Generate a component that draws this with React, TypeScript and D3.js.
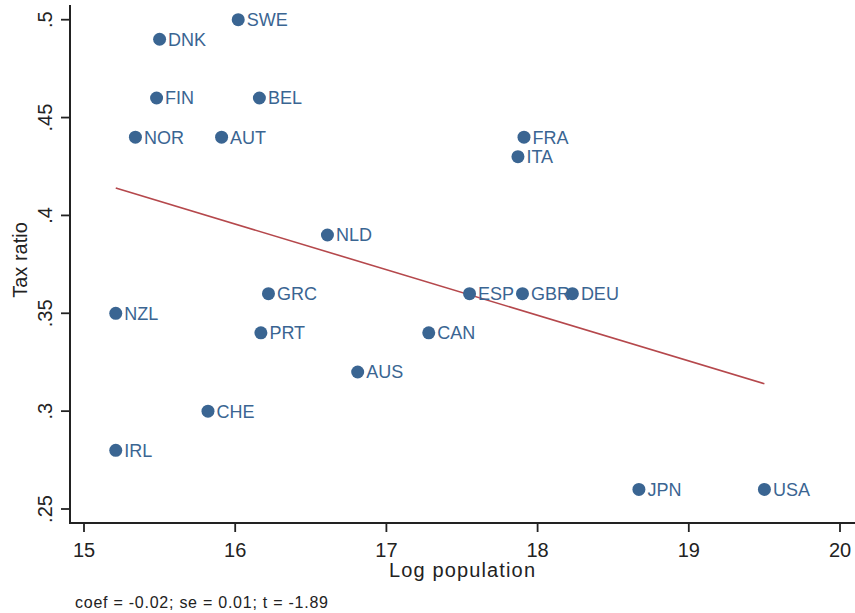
import React, { useEffect, useRef } from 'react';
import * as d3 from 'd3';

// countries, log population and tax ratio
const countries = ['SWE', 'DNK', 'FIN', 'BEL', 'NOR', 'AUT', 'FRA', 'ITA', 'NLD', 'GRC', 'ESP', 'GBR', 'DEU', 'NZL', 'PRT', 'CAN', 'AUS', 'CHE', 'IRL', 'JPN', 'USA'];
const logPop = [16.02, 15.5, 15.48, 16.16, 15.34, 15.91, 17.91, 17.87, 16.61, 16.22, 17.55, 17.9, 18.23, 15.21, 16.17, 17.28, 16.81, 15.82, 15.21, 18.67, 19.5];
const taxRatio = [0.5, 0.49, 0.46, 0.46, 0.44, 0.44, 0.44, 0.43, 0.39, 0.36, 0.36, 0.36, 0.36, 0.35, 0.34, 0.34, 0.32, 0.3, 0.28, 0.26, 0.26];

// fitted line endpoints
const fitX = [15.21, 19.5];
const fitY = [0.414, 0.314];

const xTicks = [15, 16, 17, 18, 19, 20];
const yTicks = [0.25, 0.3, 0.35, 0.4, 0.45, 0.5];
const yTickLabels = ['.25', '.3', '.35', '.4', '.45', '.5'];
const footnote = 'coef = -0.02; se = 0.01; t = -1.89';

const App = () => {
  const ref = useRef<SVGSVGElement>(null);

  useEffect(() => {
    const width = 855;
    const height = 613;
    const axisX = 70;
    const axisY = 523;
    const font = '"Liberation Sans", Arial, sans-serif';
    const ink = '#222';
    const navy = '#3a6592';

    const svg = d3.select(ref.current);
    svg.selectAll('*').remove();

    const x = d3.scaleLinear().domain([15, 20]).range([84, 840]);
    const y = d3.scaleLinear().domain([0.25, 0.5]).range([509, 19.7]);

    svg.append('rect').attr('width', width).attr('height', height).attr('fill', 'white');

    // axes
    svg.append('line')
      .attr('x1', axisX).attr('x2', axisX)
      .attr('y1', 5).attr('y2', axisY)
      .attr('stroke', ink).attr('stroke-width', 2);
    svg.append('line')
      .attr('x1', axisX - 1).attr('x2', width)
      .attr('y1', axisY).attr('y2', axisY)
      .attr('stroke', ink).attr('stroke-width', 2);

    // x ticks
    const xt = svg.append('g');
    xTicks.forEach(t => {
      xt.append('line')
        .attr('x1', x(t)).attr('x2', x(t))
        .attr('y1', axisY).attr('y2', axisY + 9)
        .attr('stroke', ink).attr('stroke-width', 1.8);
      xt.append('text')
        .attr('x', x(t)).attr('y', 556.5)
        .attr('text-anchor', 'middle')
        .attr('font-family', font).attr('font-size', 20)
        .attr('fill', ink)
        .text(String(t));
    });

    // y ticks, labels rotated like Stata
    const yt = svg.append('g');
    yTicks.forEach((t, i) => {
      yt.append('line')
        .attr('x1', axisX - 9).attr('x2', axisX)
        .attr('y1', y(t)).attr('y2', y(t))
        .attr('stroke', ink).attr('stroke-width', 1.8);
      yt.append('text')
        .attr('transform', `translate(52,${y(t)}) rotate(-90)`)
        .attr('text-anchor', 'middle')
        .attr('font-family', font).attr('font-size', 20)
        .attr('fill', ink)
        .text(yTickLabels[i]);
    });

    // axis titles
    svg.append('text')
      .attr('x', 462).attr('y', 577)
      .attr('text-anchor', 'middle')
      .attr('font-family', font).attr('font-size', 20)
      .attr('textLength', 146).attr('lengthAdjust', 'spacing')
      .attr('fill', ink)
      .text('Log population');
    svg.append('text')
      .attr('transform', 'translate(27,260) rotate(-90)')
      .attr('text-anchor', 'middle')
      .attr('font-family', font).attr('font-size', 20)
      .attr('fill', ink)
      .text('Tax ratio');

    // fitted line
    svg.append('line')
      .attr('x1', x(fitX[0])).attr('y1', y(fitY[0]))
      .attr('x2', x(fitX[1])).attr('y2', y(fitY[1]))
      .attr('stroke', '#b5484c').attr('stroke-width', 1.6);

    // points and labels
    const pts = svg.append('g');
    countries.forEach((c, i) => {
      const cx = x(logPop[i]);
      const cy = y(taxRatio[i]);
      pts.append('circle')
        .attr('cx', cx).attr('cy', cy).attr('r', 6.5)
        .attr('fill', navy);
      pts.append('text')
        .attr('x', cx + 8.5).attr('y', cy + 6.5)
        .attr('font-family', font).attr('font-size', 18)
        .attr('fill', navy)
        .text(c);
    });

    // footnote
    svg.append('text')
      .attr('x', 75).attr('y', 608)
      .attr('font-family', font).attr('font-size', 16)
      .attr('textLength', 253).attr('lengthAdjust', 'spacing')
      .attr('fill', ink)
      .text(footnote);
  }, []);

  return (
    <svg
      ref={ref}
      width={855}
      height={613}
      style={{ position: 'absolute', left: 0, top: 0 }}
    />
  );
};

export default App;
